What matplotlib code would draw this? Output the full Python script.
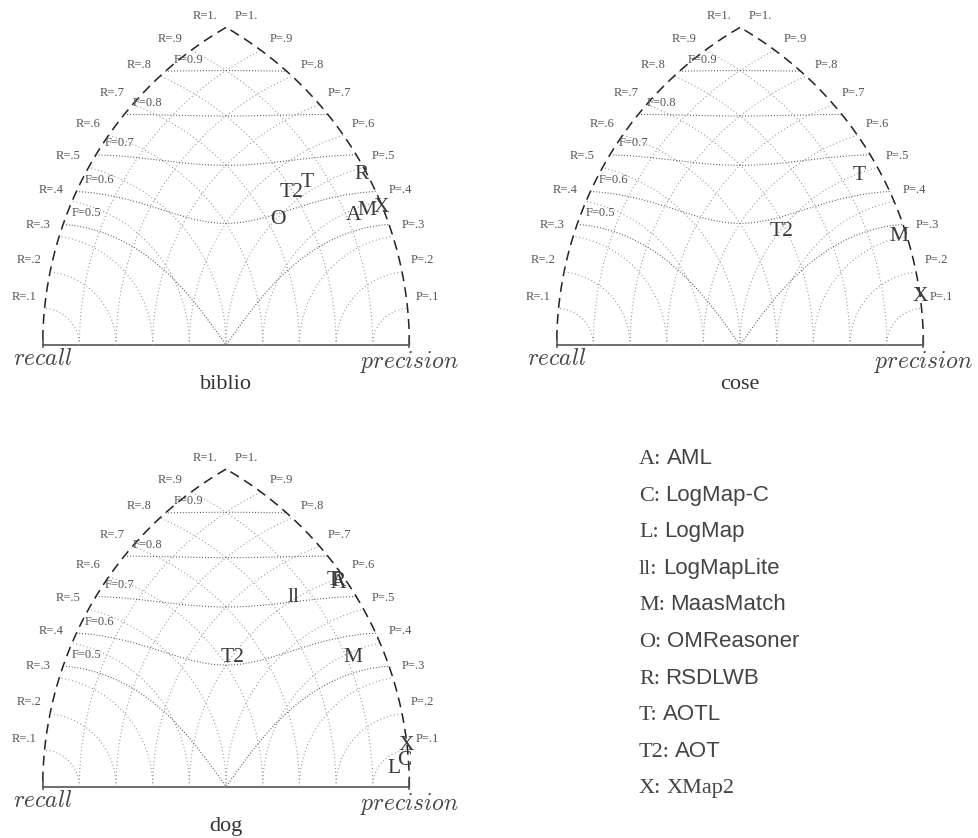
import numpy as np
import matplotlib.pyplot as plt

plt.rcParams['font.family'] = ['Liberation Serif', 'DejaVu Serif']
plt.rcParams['mathtext.fontset'] = 'cm'

# values (recall, precision per system)
biblio_systems = ['R', 'T', 'T2', 'O', 'A', 'M', 'X']
biblio_recall = [0.99, 0.85, 0.80, 0.73, 0.92, 0.96, 1.00]
biblio_precision = [0.49, 0.53, 0.53, 0.50, 0.39, 0.39, 0.39]

cose_systems = ['T', 'T2', 'M', 'X']
cose_recall = [0.95, 0.69, 0.98, 1.00]
cose_precision = [0.50, 0.50, 0.31, 0.14]

dog_systems = ['T', 'R', 'A', 'll', 'T2', 'M', 'X', 'L', 'C']
dog_recall = [0.975, 0.987, 0.983, 0.86, 0.63, 0.92, 1.00, 0.96, 0.99]
dog_precision = [0.605, 0.598, 0.594, 0.61, 0.60, 0.39, 0.12, 0.07, 0.08]

grid_levels = [0.1, 0.2, 0.3, 0.4, 0.5, 0.6, 0.7, 0.8, 0.9, 1.0]
grid_labels = ['.1', '.2', '.3', '.4', '.5', '.6', '.7', '.8', '.9', '1.']
f_levels = [0.5, 0.6, 0.7, 0.8, 0.9]
f_labels = ['0.5', '0.6', '0.7', '0.8', '0.9']

legend_keys = ['A', 'C', 'L', 'll', 'M', 'O', 'R', 'T', 'T2', 'X']
legend_names = ['AML', 'LogMap-C', 'LogMap', 'LogMapLite', 'MaasMatch',
                'OMReasoner', 'RSDLWB', 'AOTL', 'AOT', 'XMap2']

W, H = 979, 838
SIDE = 366.7  # px per unit


def to_xy(r, p):
    # recall = distance to left corner, precision = distance to right corner
    x = (r * r - p * p + 1) / 2
    y = np.sqrt(np.maximum(r * r - x * x, 0))
    return x, y


def triangle(left_px, bottom_px, title):
    ax = fig.add_axes([left_px / W, (H - bottom_px) / H, SIDE / W, SIDE * np.sqrt(3) / 2 / H])
    ax.set_xlim(0, 1)
    ax.set_ylim(0, np.sqrt(3) / 2)
    ax.axis('off')

    dash = dict(color='#222222', lw=1.1, ls=(0, (6.5, 4)), clip_on=False)
    t = np.linspace(np.pi * 2 / 3, np.pi, 200)
    ax.plot(1 + np.cos(t), np.sin(t), **dash)
    t = np.linspace(0, np.pi / 3, 200)
    ax.plot(np.cos(t), np.sin(t), **dash)
    ax.plot([0, 1], [0, 0], color='#555555', lw=1.2, clip_on=False)
    for xc in [0, 1]:
        ax.plot([xc, xc], [-0.006, 0.018], color='#555555', lw=1.2, clip_on=False)

    # iso-recall / iso-precision arcs
    dot = dict(color='#888888', lw=0.8, ls=(0, (0.8, 2.4)), clip_on=False)
    lab = dict(fontsize=9, color='#555555', textcoords='offset points', va='bottom')
    for lv, lt in zip(grid_levels, grid_labels):
        xi = lv * lv / 2
        yi = np.sqrt(lv * lv - xi * xi)
        if lv < 1:
            a = np.linspace(0, np.arctan2(yi, xi), 150)
            ax.plot(lv * np.cos(a), lv * np.sin(a), **dot)
            ax.plot(1 - lv * np.cos(a), lv * np.sin(a), **dot)
        ax.annotate('R=' + lt, (xi, yi), xytext=(-6, 4), ha='right', **lab)
        ax.annotate('P=' + lt, (1 - xi, yi), xytext=(6, 4), ha='left', **lab)

    # iso-F curves
    fdot = dict(color='#444444', lw=0.8, ls=(0, (0.8, 1.8)), clip_on=False)
    for f, ft in zip(f_levels, f_labels):
        r = np.linspace(f / (2 - f), 1, 600)
        p = f * r / (2 * r - f)
        x, y = to_xy(r, p)
        ax.plot(x, y, **fdot)
        ax.annotate('F=' + ft, (x[0], y[0]), xytext=(6, 4), ha='left', **lab)

    ax.annotate('$recall$', (0, 0), xytext=(0, -3), textcoords='offset points',
                ha='center', va='top', fontsize=17, color='#444444')
    ax.annotate('$precision$', (1, 0), xytext=(0, -3), textcoords='offset points',
                ha='center', va='top', fontsize=17, color='#444444')
    ax.annotate(title, (0.5, 0), xytext=(0, -32), textcoords='offset points',
                ha='center', va='baseline', fontsize=16, color='#333333')
    return ax


def place(ax, systems, recall, precision):
    x, y = to_xy(np.array(recall), np.array(precision))
    for s, xx, yy in zip(systems, x, y):
        ax.text(xx, yy, s, ha='center', va='center_baseline', fontsize=15.5, color='#3a3a3a')


fig = plt.figure(figsize=(W / 100, H / 100), dpi=100)

ax1 = triangle(42.7, 345, 'biblio')
place(ax1, biblio_systems, biblio_recall, biblio_precision)

ax2 = triangle(556.7, 345, 'cose')
place(ax2, cose_systems, cose_recall, cose_precision)

ax3 = triangle(42.7, 786.7, 'dog')
place(ax3, dog_systems, dog_recall, dog_precision)

for i, (k, n) in enumerate(zip(legend_keys, legend_names)):
    yb = 1 - (464 + i * 36.6) / H
    t = fig.text(639 / W, yb, k + ':', fontsize=16, color='#444444', va='baseline')
    fam = 'Liberation Serif' if n == 'XMap2' else 'Liberation Sans'
    plt.annotate(n, xy=(1, yb), xycoords=(t, 'figure fraction'), xytext=(4, 0),
                 textcoords='offset points', va='baseline', fontsize=16,
                 color='#444444', family=fam)

fig.savefig('out.png', dpi=100)
